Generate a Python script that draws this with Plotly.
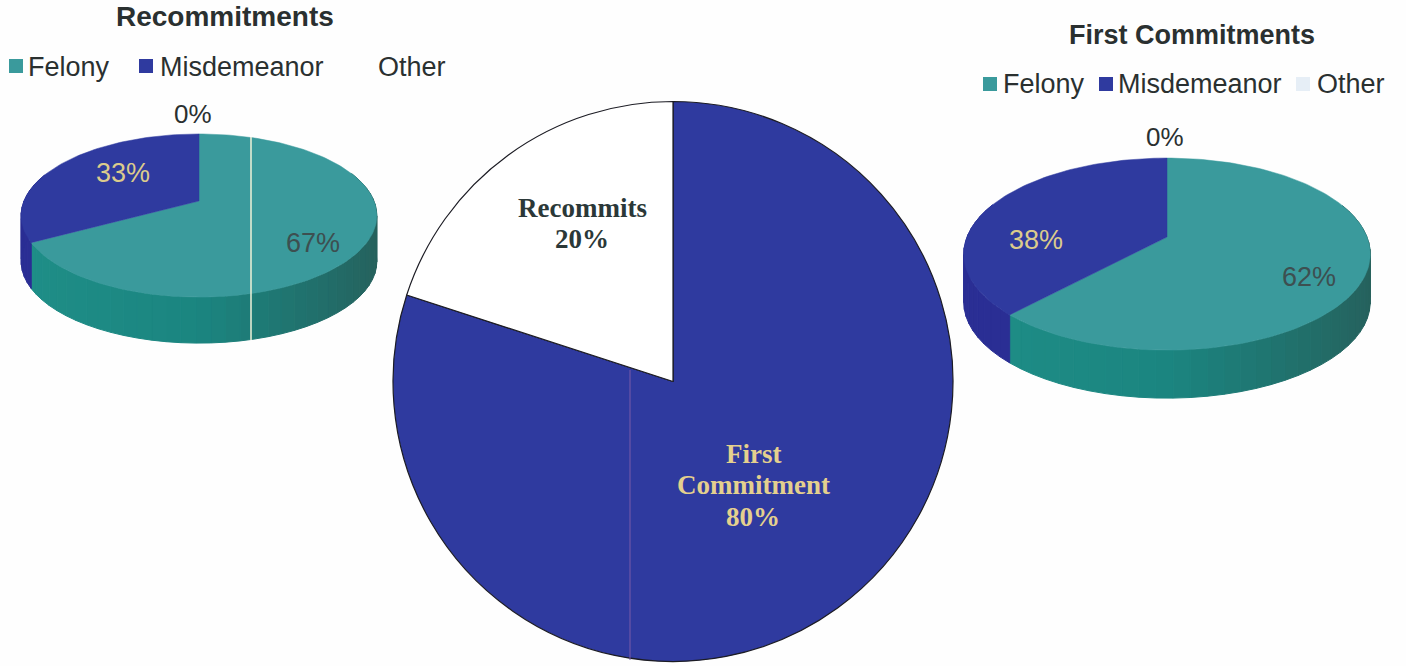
import math
import plotly.graph_objects as go

categories = ["Felony", "Misdemeanor", "Other"]
recommit_values = [67, 33, 0]
first_values = [62, 38, 0]
overall_labels = ["First Commitment", "Recommits"]
overall_values = [80, 20]

TEAL, BLUE, PALE = "#3a9a9c", "#2f3a9f", "#e6eef6"
WALL_BLUE = "#2a2e94"
SANS, SERIF = "Liberation Sans", "Liberation Serif"
INK = "#2a3030"
CREAM = "#dccb8c"
W, H = 1406, 666
PERSP = 0.178


def project(theta, g):
    X, Z = math.sin(theta), math.cos(theta)
    d = 1 + PERSP * Z
    return g["ax"] + g["sx"] * X / d, g["ay"] - g["sy"] * Z / d


def mix(a, b, t):
    pa = [int(a[i:i + 2], 16) for i in (1, 3, 5)]
    pb = [int(b[i:i + 2], 16) for i in (1, 3, 5)]
    return "#" + "".join(f"{round(p + (q - p) * t):02x}" for p, q in zip(pa, pb))


def wall_colour(theta, base):
    if base == BLUE:
        return WALL_BLUE
    t = (math.sin(theta) + 1) / 2
    if t < 0.5:
        return mix("#1f8f88", "#1b8580", t * 2)
    return mix("#1b8580", "#265f5b", (t - 0.5) * 2)


def add_pie(fig, values, g):
    colours = [TEAL, BLUE, PALE]
    total = sum(values)
    start = 0.0
    spans = []
    for v, c in zip(values, colours):
        end = start + 2 * math.pi * v / total
        spans.append((start, end, c))
        start = end
    # side wall
    for a, b, c in spans:
        n = max(1, int((b - a) / math.radians(4)))
        for i in range(n):
            t0 = a + (b - a) * i / n
            t1 = a + (b - a) * (i + 1) / n
            if math.cos((t0 + t1) / 2) > 0.35:
                continue
            p0, p1 = project(t0, g), project(t1, g)
            col = wall_colour((t0 + t1) / 2, c)
            fig.add_trace(go.Scatter(
                x=[p0[0], p1[0], p1[0], p0[0], p0[0]],
                y=[p0[1], p1[1], p1[1] + g["depth"], p0[1] + g["depth"], p0[1]],
                mode="lines", fill="toself", fillcolor=col,
                line=dict(color=col, width=1), hoverinfo="skip", showlegend=False))
    # top face
    for a, b, c in spans:
        if b <= a:
            continue
        n = max(2, int((b - a) / math.radians(1.5)))
        pts = [project(a + (b - a) * i / n, g) for i in range(n + 1)]
        xs = [g["ax"]] + [p[0] for p in pts] + [g["ax"]]
        ys = [g["ay"]] + [p[1] for p in pts] + [g["ay"]]
        fig.add_trace(go.Scatter(
            x=xs, y=ys, mode="lines", fill="toself", fillcolor=c,
            line=dict(color=c, width=0.5), hoverinfo="skip", showlegend=False))


fig = go.Figure()

left_geo = dict(ax=199, ay=201, sx=175, sy=79, depth=46)
right_geo = dict(ax=1167, ay=237, sx=200, sy=93, depth=48)
add_pie(fig, recommit_values, left_geo)
add_pie(fig, first_values, right_geo)

# centre pie
cx0, cx1, cy0, cy1 = 393, 953, 101, 662
fig.add_trace(go.Pie(
    labels=overall_labels, values=overall_values, sort=False,
    direction="clockwise", rotation=0, textinfo="none", hoverinfo="skip",
    marker=dict(colors=[BLUE, "#ffffff"], line=dict(color="#1c1c24", width=1.2)),
    domain=dict(x=[cx0 / W, cx1 / W], y=[1 - cy1 / H, 1 - cy0 / H]),
    showlegend=False))

# legend swatches
swatches = [(16, 66, TEAL), (146, 66, BLUE), (990, 84, TEAL), (1106, 84, BLUE), (1303, 84, PALE)]
fig.add_trace(go.Scatter(
    x=[s[0] for s in swatches], y=[s[1] for s in swatches], mode="markers",
    marker=dict(symbol="square", size=14, color=[s[2] for s in swatches]),
    hoverinfo="skip", showlegend=False))


def text(s, x, y, size, colour=INK, family=SANS, bold=False, anchor="center"):
    fig.add_annotation(
        x=x, y=y, xref="x", yref="y", text=f"<b>{s}</b>" if bold else s, showarrow=False,
        xanchor=anchor, yanchor="middle",
        font=dict(family=family, size=size, color=colour))


text("Recommitments", 225, 16, 28, bold=True)
text("First Commitments", 1192, 35, 27, bold=True)

for name, x, y in [(categories[0], 26, 67), (categories[1], 158, 67), (categories[2], 376, 67),
                   (categories[0], 1001, 84), (categories[1], 1116, 84), (categories[2], 1315, 84)]:
    text(name, x, y, 27, anchor="left")

text(f"{recommit_values[2]}%", 193, 114, 26)
text(f"{recommit_values[1]}%", 123, 173, 27, colour=CREAM)
text(f"{recommit_values[0]}%", 313, 243, 27, colour="#3d4f50")
text(f"{first_values[2]}%", 1165, 137, 26)
text(f"{first_values[1]}%", 1036, 240, 27, colour=CREAM)
text(f"{first_values[0]}%", 1309, 277, 27, colour="#3d4f50")

text(overall_labels[1], 582, 208, 27, family=SERIF, bold=True, colour="#2b3838")
text(f"{overall_values[1]}%", 582, 239, 27, family=SERIF, bold=True, colour="#2b3838")
text("First", 753, 454, 27, family=SERIF, bold=True, colour="#e4d08e")
text("Commitment", 753, 485, 27, family=SERIF, bold=True, colour="#e4d08e")
text(f"{overall_values[0]}%", 753, 517, 27, family=SERIF, bold=True, colour="#e4d08e")

fig.update_layout(
    width=W, height=H, margin=dict(l=0, r=0, t=0, b=0),
    paper_bgcolor="#fefefe", plot_bgcolor="rgba(0,0,0,0)",
    xaxis=dict(range=[0, W], visible=False, domain=[0, 1], fixedrange=True),
    yaxis=dict(range=[H, 0], visible=False, domain=[0, 1], fixedrange=True),
    shapes=[
        dict(type="line", x0=251, x1=251, y0=137, y1=340, line=dict(color="#f0f2d8", width=1.5), layer="above"),
        dict(type="line", x0=630, x1=630, y0=370, y1=660, line=dict(color="#7a5aa8", width=1), layer="above"),
    ],
)

fig.write_html("out.html", config=dict(displayModeBar=False),
               post_script="document.body.style.margin='0';document.body.style.overflow='hidden';")
